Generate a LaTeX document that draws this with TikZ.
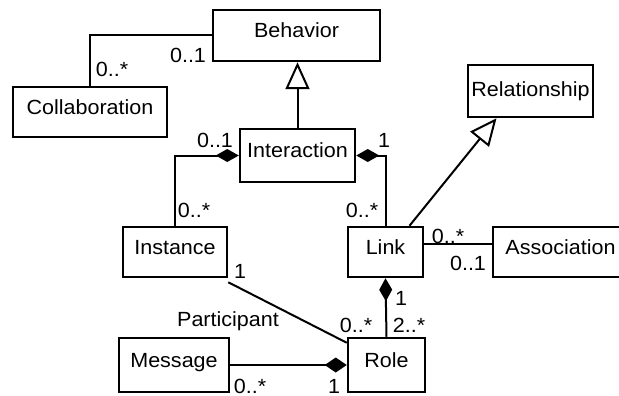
\documentclass[tikz,border=0pt]{standalone}
\usepackage{fontspec}
\setmainfont{Liberation Sans}[FakeStretch=1.05]
\usetikzlibrary{arrows.meta,calc}
\begin{document}
\begin{tikzpicture}[x=1pt,y=-1pt,
  every node/.style={font=\fontsize{20.5}{24}\selectfont},
  cls/.style={draw, line width=2.5pt, inner sep=0pt, text height=15pt, text depth=11pt, minimum height=50pt},
  mult/.style={anchor=base, inner sep=0pt},
  assoc/.style={line width=2pt},
  comp/.style={assoc, {Diamond[length=23pt,width=13pt]}-},
  gen/.style={assoc, -{Triangle[open, fill=white, length=27pt, width=24pt]}}
]
\clip (0,0) rectangle (619,396);
\fill[white] (0,0) rectangle (619,396);

% classes
\node[cls, minimum width=167pt, minimum height=51pt] (behavior) at (296.5,35.5) {Behavior};
\node[cls, minimum width=154pt] (collab) at (90,112) {Collaboration};
\node[cls, minimum width=115pt, minimum height=53pt] (interaction) at (297.5,155.5) {Interaction};
\node[cls, minimum width=125pt, minimum height=52pt, text depth=4pt] (relationship) at (530.5,91) {Relationship};
\node[cls, minimum width=104pt] (instance) at (175,252) {Instance};
\node[cls, minimum width=75pt] (link) at (385.5,252) {Link};
\node[cls, minimum width=135pt] (association) at (560.5,252) {Association};
\node[cls, minimum width=110pt, minimum height=54pt] (message) at (174,365) {Message};
\node[cls, minimum width=77pt, minimum height=54pt] (role) at (386.5,365) {Role};

% relations
\draw[assoc] (collab.north) |- (behavior.west);
\draw[gen] (interaction.north) -- (interaction.north |- behavior.south);
\draw[comp] (interaction.west) -| (instance.north);
\draw[comp] (interaction.east) -| (link.north);
\draw[gen] ([xshift=24pt]link.north) -- ([xshift=-34pt]relationship.south);
\draw[assoc] ([yshift=8pt]link.east) -- ([yshift=8pt]association.west);
\draw[comp] (link.south) -- (role.north);
\draw[assoc] ([yshift=-4pt]instance.south east) -- ([yshift=-6pt]role.north west);
\draw[assoc, -{Diamond[length=22pt,width=15pt]}] (message.east) -- (role.west);

% multiplicities and role name
\node[mult] (mBeh) at (188,63) {0..1};
\node[mult] (mCol) at (112,77) {0..*};
\node[mult] (mIntL) at (215,147) {0..1};
\node[mult] (mIns) at (194,217) {0..*};
\node[mult] (mIntR) at (384,147) {1};
\node[mult] (mLnkT) at (362,217) {0..*};
\node[mult] (mLnkA) at (448,243) {0..*};
\node[mult] (mAsc) at (468,270) {0..1};
\node[mult] (mLnkB) at (401,305) {1};
\node[mult] (mRolL) at (356,332) {0..*};
\node[mult] (mRolR) at (409,332) {2..*};
\node[mult] (mInsB) at (240,278) {1};
\node[mult] (part) at (228,326) {Participant};
\node[mult] (mMsg) at (250,393) {0..*};
\node[mult] (mRolB) at (334,393) {1};
\end{tikzpicture}
\end{document}
